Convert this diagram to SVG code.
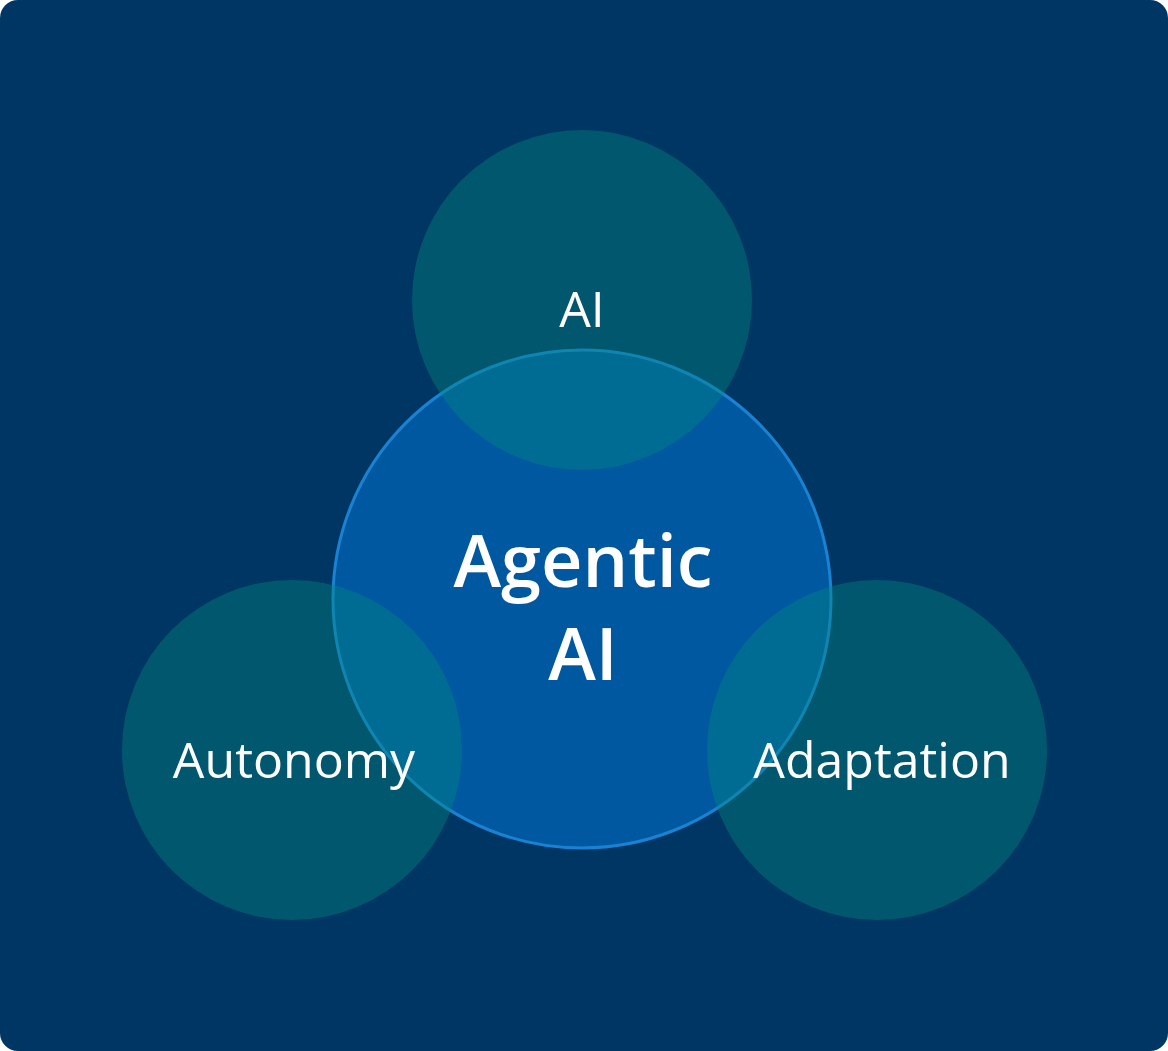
<svg xmlns="http://www.w3.org/2000/svg" width="1168" height="1051" viewBox="0 0 1168 1051">
<style>
.small{fill:#008a80;fill-opacity:0.4}
.lbl{font-family:"Open Sans","Liberation Sans",sans-serif;fill:#ffffff;text-anchor:middle}
</style>
<rect x="0" y="0" width="1168" height="1051" rx="18" fill="#003663"/>
<g id="agentic">
<circle cx="582" cy="599" r="249" fill="#0058a0" stroke="#1a82d2" stroke-width="3"/>
</g>
<g id="ai"><circle class="small" cx="582" cy="300" r="170"/><text class="lbl" x="582" y="327" font-size="50">AI</text></g>
<g id="autonomy"><circle class="small" cx="292" cy="750" r="170"/><text class="lbl" x="294" y="778" font-size="50">Autonomy</text></g>
<g id="adaptation"><circle class="small" cx="877" cy="750" r="170"/><text class="lbl" x="882" y="778" font-size="50">Adaptation</text></g>
<g id="agentic-label">
<text class="lbl" x="583" y="587" font-size="72" font-weight="600">Agentic</text>
<text class="lbl" x="583" y="680" font-size="72" font-weight="600">AI</text>
</g>
<g id="connectors"/>
</svg>
